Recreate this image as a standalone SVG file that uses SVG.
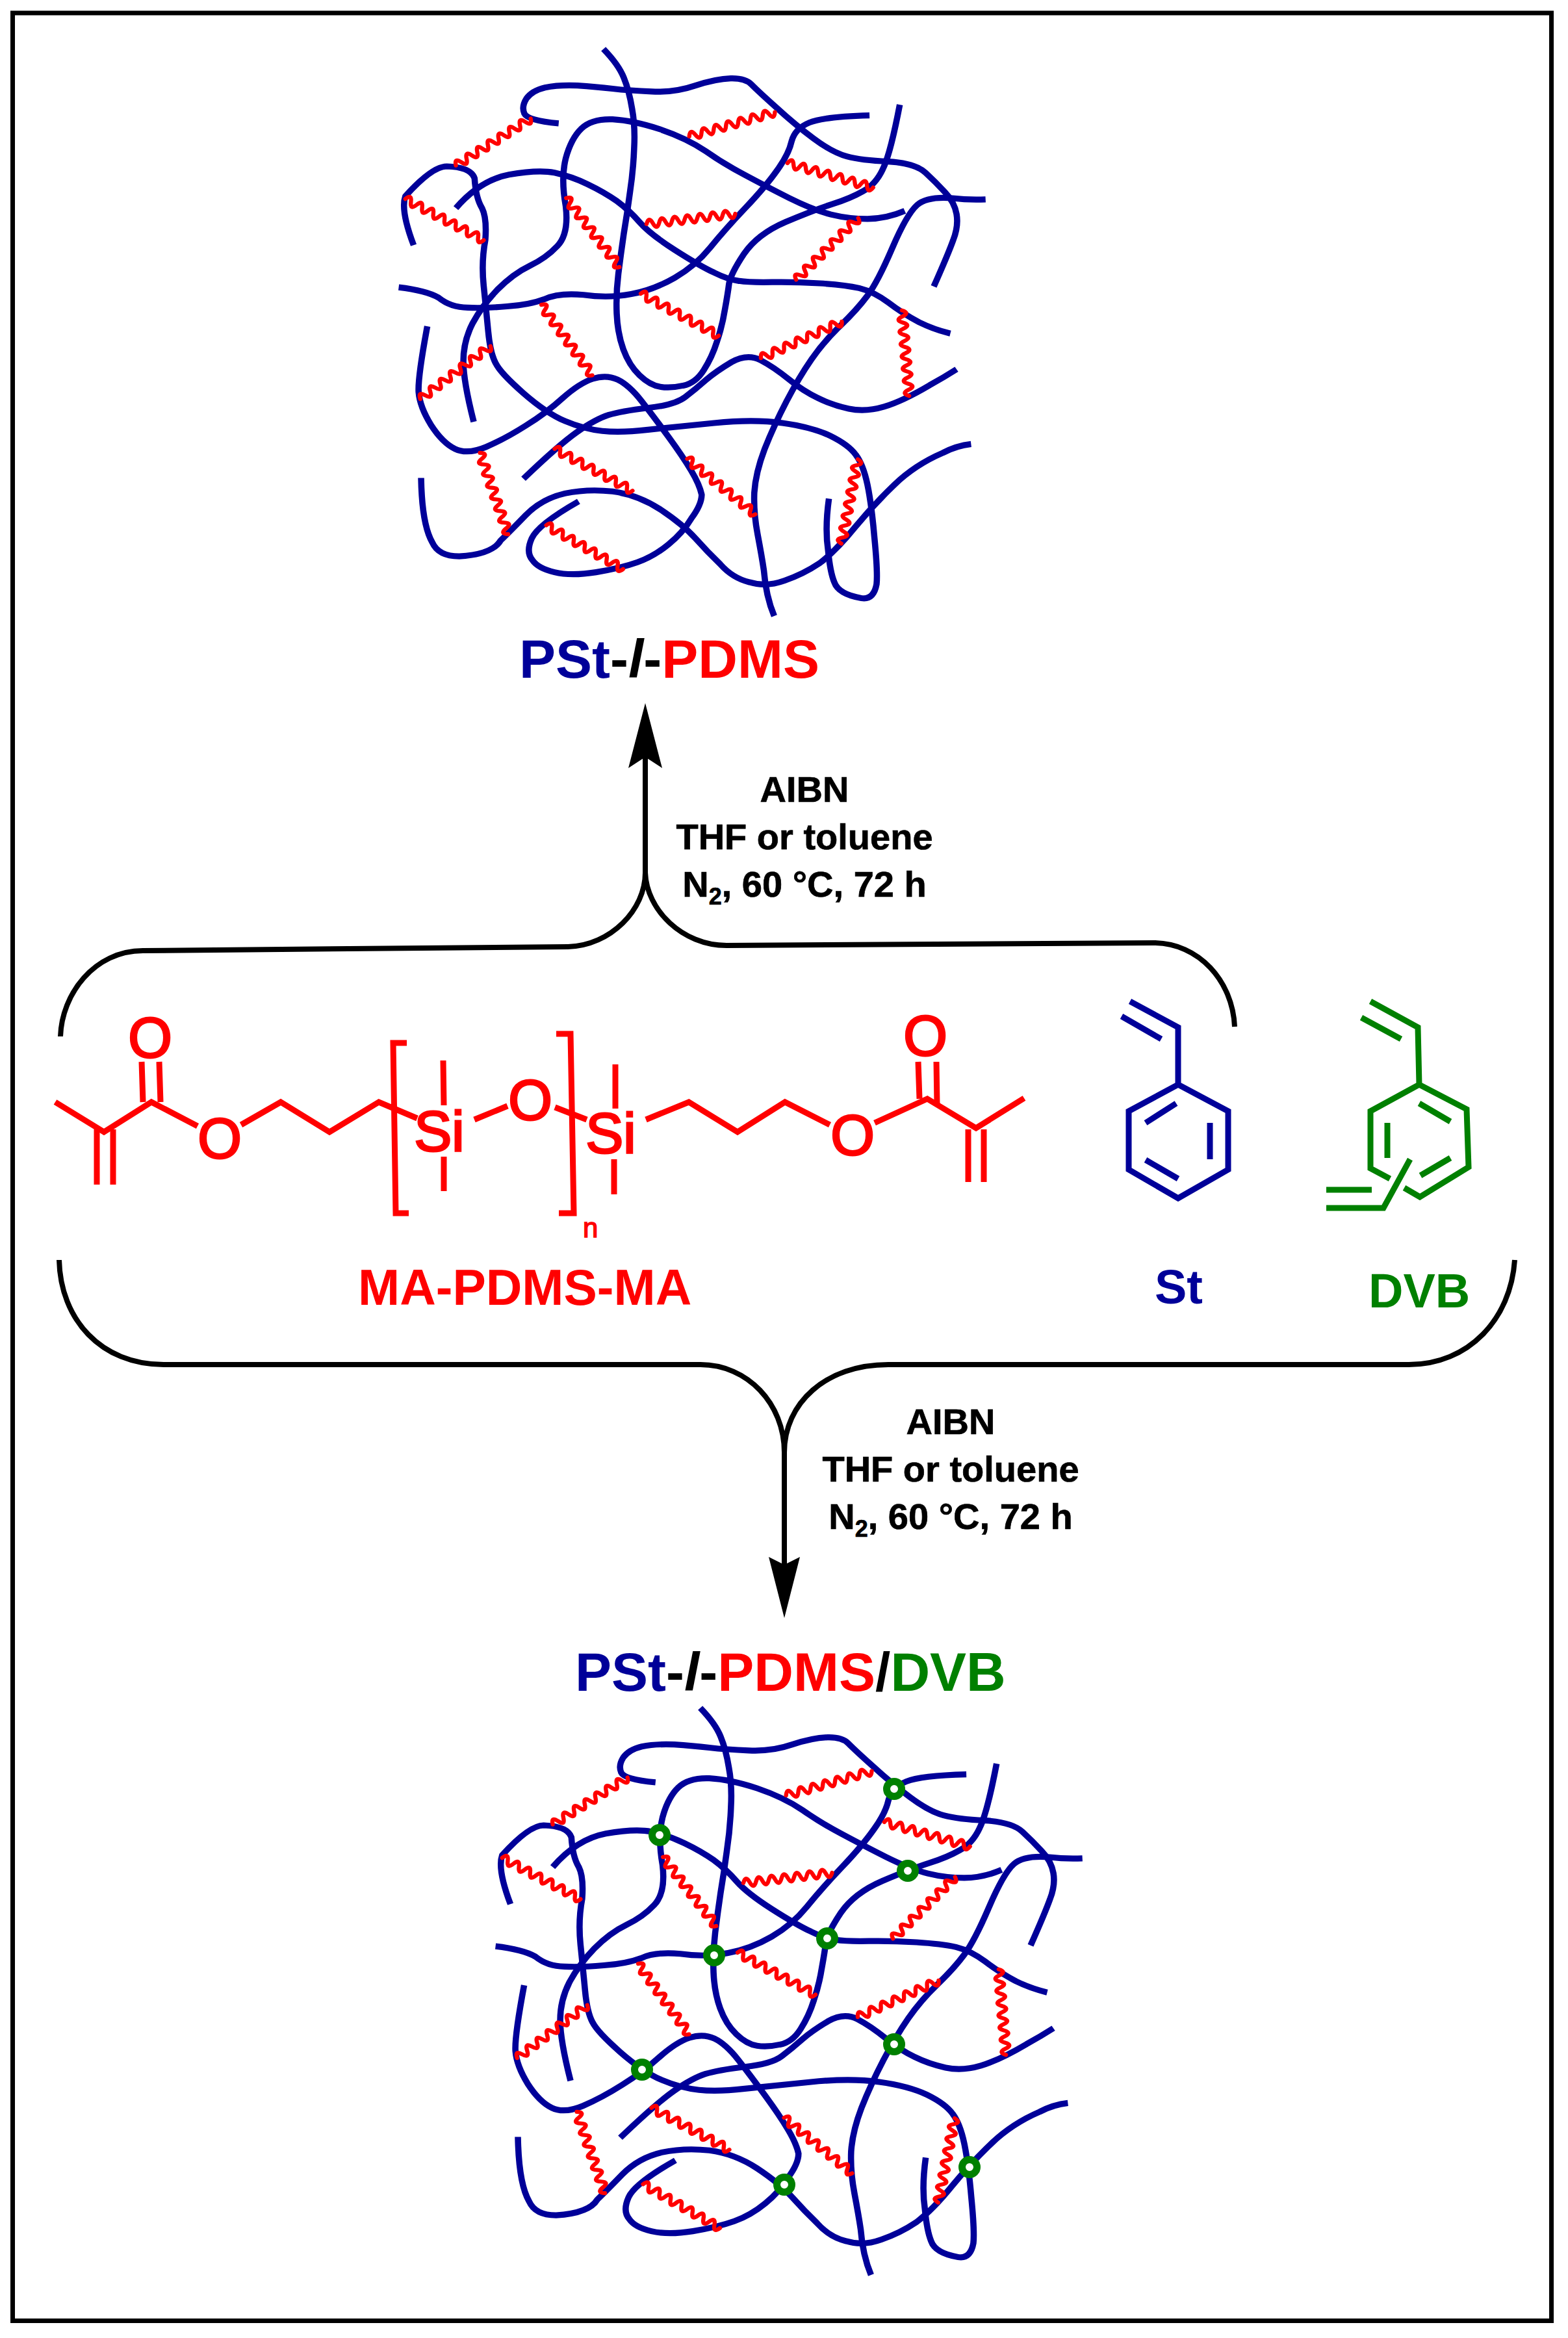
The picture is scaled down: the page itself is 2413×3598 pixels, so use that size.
<svg xmlns="http://www.w3.org/2000/svg" xmlns:xlink="http://www.w3.org/1999/xlink" width="2413" height="3598" viewBox="0 0 2413 3598">
<style>
text{font-family:"Liberation Sans",Arial,sans-serif;font-weight:bold}
.blue{fill:#000099}.red{fill:#ff0000}.green{fill:#008000}.blk{fill:#000}
.cond{font-size:56px;text-anchor:middle;fill:#000;stroke:#000;stroke-width:.7px}
.title{font-size:84px}
.atom{font-size:87px;font-weight:normal;fill:#ff0000;stroke:#ff0000;stroke-width:3px;text-anchor:middle}
.bk{fill:none;stroke:#000;stroke-width:8}
.rb{fill:none;stroke:#ff0000;stroke-width:9}
.bb{fill:none;stroke:#000099;stroke-width:9}
.gb{fill:none;stroke:#008000;stroke-width:9}
.strand{fill:none;stroke:#000099;stroke-width:15;stroke-linecap:butt;stroke-linejoin:round}
.wave{fill:none;stroke:#ff0000;stroke-width:10;stroke-linecap:round}
.node{fill:#fff;stroke:#008000;stroke-width:11}
</style>
<defs>
<path id="w" class="wave" d="M0 0q7.7-20 15.4 0t15.4 0t15.4 0t15.4 0t15.4 0t15.4 0t15.4 0t15.4 0t15.4 0t15.4 0t15.4 0t15.4 0t15.4 0t15.4 0"/>
<g id="net" transform="translate(560 60) scale(.6378 .6124)">
<g class="strand">
<path d="M578 25Q615 65 627 97Q640 130 647 175Q655 220 652 275Q650 330 642 385Q635 440 627 490Q620 540 614 590Q608 640 610 690Q612 740 626 780Q640 820 665 845Q690 870 715 874Q740 878 770 871Q800 865 820 832Q840 800 852 760Q865 720 871 680Q878 640 881 615Q885 590 917 540Q950 490 1017 460Q1085 430 1130 415Q1175 400 1205 382Q1235 365 1252 327Q1270 290 1293 165"/>
<path d="M470 212Q395 205 387 187Q380 170 392 150Q405 130 437 122Q470 115 515 117Q560 120 600 125Q640 130 695 132Q750 135 800 117Q850 100 885 99Q920 98 935 114Q950 130 995 172Q1040 215 1085 250Q1130 285 1165 295Q1200 305 1265 308Q1330 312 1355 336Q1380 360 1402 385Q1425 410 1430 440Q1435 470 1422 505Q1410 540 1375 622"/>
<path d="M222 425Q280 355 350 341Q420 328 460 336Q500 345 540 365Q580 385 610 407Q640 430 665 460Q690 490 750 530Q810 570 845 587Q880 605 905 608Q930 612 985 611Q1040 610 1100 614Q1160 618 1195 626Q1230 635 1265 662Q1300 690 1340 712Q1375 730 1415 740"/>
<path d="M120 518Q88 430 100 395Q165 320 200 320Q258 322 267 350Q270 400 285 425Q297 450 293 505Q283 560 289 620Q295 680 300 735Q305 790 318 815Q330 840 385 890Q440 940 485 960Q530 980 575 985Q620 990 685 982Q750 975 845 965Q940 955 1010 965Q1080 975 1125 997Q1170 1020 1187 1045Q1205 1070 1215 1120Q1225 1170 1232 1255Q1240 1340 1237 1370Q1230 1410 1200 1405Q1145 1395 1135 1365Q1125 1340 1120 1285Q1112 1230 1122 1155"/>
<path d="M84 624Q150 632 180 650Q210 675 250 675Q290 677 345 672Q400 668 435 654Q470 637 530 643Q590 652 645 641Q700 630 750 600Q800 570 835 525Q870 480 920 425Q970 370 997 330Q1025 290 1032 257Q1040 225 1075 210Q1110 195 1220 192"/>
<path d="M265 962Q240 860 240 810Q240 760 262 715Q285 670 322 630Q360 590 400 570Q440 550 467 520Q495 490 487 420Q475 350 487 300Q500 250 525 225Q550 200 600 202Q650 205 715 227Q780 250 825 282Q870 315 920 342Q970 370 1027 400Q1085 430 1127 441Q1170 452 1215 452Q1260 452 1305 432"/>
<path d="M153 722Q130 850 132 887Q135 925 162 970Q190 1015 220 1030Q250 1045 295 1025Q340 1005 390 972Q440 940 480 902Q520 865 552 854Q585 843 612 856Q640 870 670 910Q700 950 735 1000Q770 1050 790 1085Q810 1120 815 1145Q815 1170 790 1205Q770 1240 735 1270Q700 1300 660 1315Q620 1330 560 1340Q500 1350 460 1340Q420 1330 407 1310Q390 1290 405 1255Q420 1220 518 1162"/>
<path d="M385 1105Q470 1020 515 987Q560 955 590 945Q620 935 685 927Q750 920 775 900Q800 880 825 857Q850 835 887 812Q925 790 957 807Q990 825 1025 855Q1060 885 1095 902Q1130 920 1170 929Q1210 938 1255 924Q1300 910 1365 870Q1400 850 1430 830"/>
<path d="M1500 403Q1460 405 1420 400Q1360 395 1335 417Q1310 440 1275 525Q1240 610 1215 645Q1190 680 1150 720Q1110 760 1080 805Q1050 850 1020 910Q990 970 967 1030Q945 1090 942 1140Q940 1190 950 1245Q960 1300 965 1335Q970 1400 990 1450"/>
<path d="M138 1103Q140 1220 165 1265Q180 1300 230 1300Q310 1295 330 1260Q350 1240 390 1197Q430 1155 485 1142Q540 1130 600 1137Q660 1145 715 1182Q770 1220 800 1255Q830 1290 860 1320Q890 1355 930 1365Q970 1378 1015 1361Q1060 1345 1100 1317Q1140 1285 1185 1227Q1230 1170 1280 1120Q1330 1070 1397 1040Q1430 1022 1465 1018"/>
</g>
<use xlink:href="#w" href="#w" transform="translate(222 318) rotate(-33.2)"/>
<use xlink:href="#w" href="#w" transform="translate(785 245) rotate(-16.5)"/>
<use xlink:href="#w" href="#w" transform="translate(1022 312) rotate(16.5)"/>
<use xlink:href="#w" href="#w" transform="translate(100 402) rotate(28.7)"/>
<use xlink:href="#w" href="#w" transform="translate(488 400) rotate(53.4)"/>
<use xlink:href="#w" href="#w" transform="translate(682 465) rotate(-6.9)"/>
<use xlink:href="#w" href="#w" transform="translate(1043 605) rotate(-46)"/>
<use xlink:href="#w" href="#w" transform="translate(668 640) rotate(29.3)"/>
<use xlink:href="#w" href="#w" transform="translate(428 668) rotate(55.2)"/>
<use xlink:href="#w" href="#w" transform="translate(958 802) rotate(-25.2)"/>
<use xlink:href="#w" href="#w" transform="translate(1298 682) rotate(85.3)"/>
<use xlink:href="#w" href="#w" transform="translate(136 905) rotate(-38.2)"/>
<use xlink:href="#w" href="#w" transform="translate(280 1040) rotate(71.6)"/>
<use xlink:href="#w" href="#w" transform="translate(460 1030) rotate(29.2)"/>
<use xlink:href="#w" href="#w" transform="translate(780 1055) rotate(40.3)"/>
<use xlink:href="#w" href="#w" transform="translate(1152 1268) rotate(-79.4)"/>
<use xlink:href="#w" href="#w" transform="translate(440 1222) rotate(30.7)"/>
</g>
</defs>
<rect id="frame" x="19.5" y="20" width="2368" height="3551.5" fill="#fff" stroke="#000" stroke-width="7"/>

<g id="network-top"><use xlink:href="#net" href="#net"/></g>
<text id="title-top" class="title" x="799" y="1043"><tspan class="blue">PSt</tspan><tspan class="blk">-</tspan><tspan class="blk" font-style="italic">l</tspan><tspan class="blk">-</tspan><tspan class="red">PDMS</tspan></text>

<g id="connectors">
<path class="bk" d="M93 1595C95 1530 145 1463 220 1463L874 1457C940 1455 993 1400 993 1343V1165M993 1343C995 1400 1050 1455 1118 1455L1775 1451C1845 1451 1897 1510 1900 1580"/>
<path d="M993 1082L967 1182L993 1165L1019 1182Z" fill="#000"/>
<path class="bk" d="M91 1939C93 2030 155 2100 252 2100H1078C1150 2100 1207 2160 1207 2235V2408M1207 2235C1207 2160 1270 2100 1367 2100H2168C2260 2100 2325 2030 2331 1939"/>
<path d="M1207 2490L1183 2396L1207 2408L1231 2396Z" fill="#000"/>
</g>

<g id="conditions-top">
<text class="cond" x="1238" y="1234">AIBN</text>
<text class="cond" x="1238" y="1307">THF or toluene</text>
<text class="cond" x="1238" y="1380">N<tspan font-size="36" dy="12">2</tspan><tspan dy="-12">, 60 °C, 72 h</tspan></text>
</g>

<g id="ma-pdms-ma">
<path class="rb" d="M85 1696L160 1742L233 1696L304 1733M371 1731L432 1696L507 1742L583 1696L642 1721M730 1723L781 1702M854 1704L903 1723M994 1723L1060 1696L1135 1742L1208 1696L1277 1731M1346 1728L1427 1691L1502 1736L1576 1690"/>
<path class="rb" d="M218 1634L220 1696M245 1634L247 1696M149 1738V1823M174 1738V1823M682 1632L683 1701M683 1780V1833M947 1638V1706M945 1784V1838M1413 1634L1415 1691M1441 1634L1442 1700M1490 1738V1819M1514 1738V1819"/>
<path class="rb" d="M626 1605H605L609 1867H629M856 1591H878L883 1867H860"/>
<text class="atom" x="231" y="1627">O</text>
<text class="atom" x="338" y="1782">O</text>
<text class="atom" x="676" y="1771">Si</text>
<text class="atom" x="816" y="1723">O</text>
<text class="atom" x="940" y="1774">Si</text>
<text class="atom" x="1312" y="1777">O</text>
<text class="atom" x="1424" y="1624">O</text>
<text x="897" y="1904" font-size="42" class="red" style="font-weight:normal;stroke:#f00;stroke-width:1.5px">n</text>
<text id="label-ma" x="551" y="2008" font-size="77" class="red">MA-PDMS-MA</text>
</g>

<g id="st">
<path class="bb" d="M1739 1541L1813 1581V1669M1726 1564L1787 1599M1813 1669L1890 1710V1800L1813 1844L1737 1800V1710ZM1810 1698L1763 1728M1862 1728V1784M1763 1785L1813 1814"/>
<text id="label-st" x="1777" y="2006" font-size="74" class="blue">St</text>
</g>

<g id="dvb">
<path class="gb" d="M2109 1541L2182 1581L2184 1669M2095 1566L2156 1599M2139 1814L2109 1798V1710L2184 1669L2257 1707L2260 1796L2185 1842L2161 1828M2184 1698L2232 1726M2135 1728V1782M2232 1782L2186 1809M2170 1784L2129 1859H2041M2041 1831H2111"/>
<text id="label-dvb" x="2106" y="2012" font-size="74" class="green">DVB</text>
</g>

<g id="conditions-bottom">
<text class="cond" x="1463" y="2207">AIBN</text>
<text class="cond" x="1463" y="2280">THF or toluene</text>
<text class="cond" x="1463" y="2353">N<tspan font-size="36" dy="12">2</tspan><tspan dy="-12">, 60 °C, 72 h</tspan></text>
</g>

<text id="title-bottom" class="title" x="885" y="2602"><tspan class="blue">PSt</tspan><tspan class="blk">-</tspan><tspan class="blk" font-style="italic">l</tspan><tspan class="blk">-</tspan><tspan class="red">PDMS</tspan><tspan class="blk">/</tspan><tspan class="green">DVB</tspan></text>

<g id="network-bottom"><use xlink:href="#net" href="#net" transform="translate(149 2553)"/></g>
<g id="crosslinks">
<circle class="node" cx="1376" cy="2753" r="11.5"/>
<circle class="node" cx="1015" cy="2824" r="11.5"/>
<circle class="node" cx="1397" cy="2879" r="11.5"/>
<circle class="node" cx="1273" cy="2983" r="11.5"/>
<circle class="node" cx="1099" cy="3009" r="11.5"/>
<circle class="node" cx="1376" cy="3146" r="11.5"/>
<circle class="node" cx="988" cy="3185" r="11.5"/>
<circle class="node" cx="1492" cy="3335" r="11.5"/>
<circle class="node" cx="1207" cy="3362" r="11.5"/>
</g>
</svg>
